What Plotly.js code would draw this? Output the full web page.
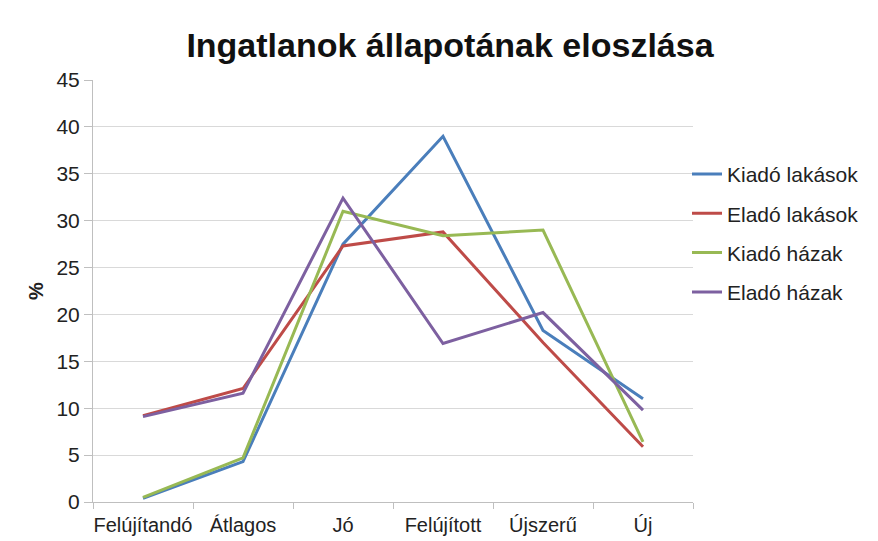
<!DOCTYPE html>
<html>
<head>
<meta charset="utf-8">
<script src="https://cdn.plot.ly/plotly-3.0.1.min.js"></script>
<style>html,body{margin:0;padding:0;background:#fff;}#chart{width:878px;height:541px;}</style>
</head>
<body>
<div id="chart"></div>
<script>
const categories = ["Felújítandó", "Átlagos", "Jó", "Felújított", "Újszerű", "Új"];
const kiadoLakasok = [0.4, 4.3, 27.5, 39.0, 18.3, 11.0];
const eladoLakasok = [9.2, 12.1, 27.3, 28.8, 17.0, 5.9];
const kiadoHazak   = [0.5, 4.7, 31.0, 28.4, 29.0, 6.4];
const eladoHazak   = [9.1, 11.6, 32.4, 16.9, 20.2, 9.8];
const seriesNames = ["Kiadó lakások", "Eladó lakások", "Kiadó házak", "Eladó házak"];
const yTicks = [0, 5, 10, 15, 20, 25, 30, 35, 40, 45];

const colors = ["#4A7EBB", "#BE4B48", "#98B954", "#7D60A0"];
const allSeries = [kiadoLakasok, eladoLakasok, kiadoHazak, eladoHazak];

const traces = allSeries.map((vals, i) => ({
  type: "scatter",
  mode: "lines",
  x: categories,
  y: vals,
  name: seriesNames[i],
  legendgroup: "g" + i,
  line: {color: colors[i], width: 3}
}));

const FONT = "Liberation Sans, Arial, Helvetica, sans-serif";
const layout = {
  width: 878, height: 541,
  margin: {l: 93, r: 185, t: 80, b: 39},
  paper_bgcolor: "#fff",
  plot_bgcolor: "#fff",
  font: {family: FONT, color: "#222", size: 21},
  title: {text: "<b>Ingatlanok állapotának eloszlása</b>", x: 0.5125, xanchor: "center", y: 0.917, yanchor: "middle",
          font: {size: 34, color: "#111", family: FONT}},
  xaxis: {
    type: "category",
    range: [-0.5, 5.5],
    showgrid: false,
    showline: true, linecolor: "#bfbfbf", linewidth: 1,
    ticks: "outside", ticklen: 6, tickcolor: "#bfbfbf",
    tickson: "boundaries",
    tickangle: 0,
    tickfont: {size: 20, color: "#222"},
    ticklabelstandoff: 5,
    fixedrange: true
  },
  yaxis: {
    range: [0, 45],
    tickvals: yTicks,
    showgrid: true, gridcolor: "#d9d9d9", gridwidth: 1,
    showline: true, linecolor: "#bfbfbf", linewidth: 1,
    ticks: "outside", ticklen: 8, tickcolor: "#bfbfbf",
    tickfont: {size: 21, color: "#222"},
    zeroline: false,
    title: {text: "<b>%</b>", font: {size: 20, color: "#222"}, standoff: 7},
    fixedrange: true
  },
  legend: {
    x: 0.99, xanchor: "left", y: 0.825, yanchor: "top",
    traceorder: "grouped", tracegroupgap: 9,
    font: {size: 21, color: "#222"},
    bgcolor: "rgba(0,0,0,0)", itemwidth: 30
  },
  showlegend: true
};

Plotly.newPlot("chart", traces, layout, {displayModeBar: false, staticPlot: true});
</script>
</body>
</html>
